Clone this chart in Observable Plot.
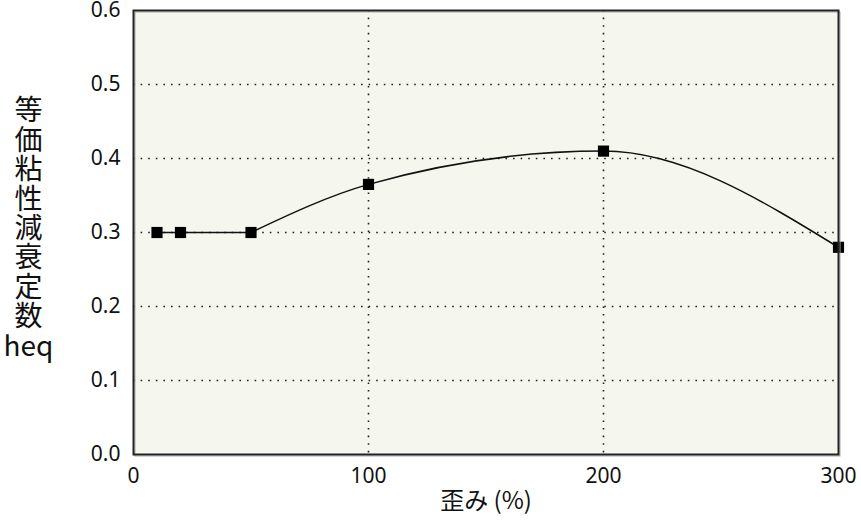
<!DOCTYPE html>
<html><head><meta charset="utf-8">
<script src="https://cdn.jsdelivr.net/npm/d3@7"></script>
<script src="https://cdn.jsdelivr.net/npm/@observablehq/plot@0.6"></script>
<style>
body{margin:0;background:#fff;}
</style>
</head><body>
<div id="chart"></div>
<script>
const strain = [10, 20, 50, 100, 200, 300];
const heq = [0.30, 0.30, 0.30, 0.365, 0.41, 0.28];
const xTicks = [0, 100, 200, 300];
const yTicks = [0.0, 0.1, 0.2, 0.3, 0.4, 0.5, 0.6];
const xGrid = [100, 200];
const yGrid = [0.1, 0.2, 0.3, 0.4, 0.5];
const xLabel = "歪み (%)";
const yLabel = "等\n価\n粘\n性\n減\n衰\n定\n数\nheq";

const data = strain.map((s, i) => ({s, h: heq[i]}));
// flat part drawn straight, rest smoothed
const flatPart = data.filter(d => d.s <= 50);
const curvePart = data.filter(d => d.s >= 50);
const font = "'Noto Sans', 'Noto Sans CJK JP', sans-serif";
const cjk = "'Noto Sans CJK JP', 'Noto Sans', sans-serif";

const chart = Plot.plot({
  width: 861, height: 528,
  marginLeft: 133, marginRight: 23, marginTop: 10, marginBottom: 74,
  style: {fontFamily: font, fontSize: "21px", color: "#111", background: "#fff"},
  x: {domain: [0, 300]},
  y: {domain: [0, 0.6]},
  marks: [
    Plot.frame({fill: "#f5f6ee", stroke: null}),
    Plot.ruleY(yGrid, {stroke: "#222", strokeWidth: 1.6, strokeDasharray: "1.6,6"}),
    Plot.ruleX(xGrid, {stroke: "#222", strokeWidth: 1.6, strokeDasharray: "1.6,6"}),
    Plot.line(flatPart, {x: "s", y: "h", stroke: "#111", strokeWidth: 1.5}),
    Plot.line(curvePart, {x: "s", y: "h", curve: "monotone-x", stroke: "#111", strokeWidth: 1.5}),
    Plot.dot(data, {x: "s", y: "h", symbol: "square", r: 6.3, fill: "#000", stroke: null}),
    Plot.frame({stroke: "#aaa", strokeWidth: 1, dx: 1.5, dy: 1.5}),
    Plot.frame({stroke: "#222", strokeWidth: 2}),
    Plot.axisX({ticks: xTicks, tickSize: 0, tickPadding: 14, label: null, tickFormat: d => d, fontSize: 21, fontFamily: font}),
    Plot.axisY({ticks: yTicks, tickSize: 0, tickPadding: 13, label: null, tickFormat: d => d.toFixed(1), fontSize: 21, fontFamily: font}),
    Plot.text([xLabel], {frameAnchor: "bottom", dy: 54, fontSize: 24, fill: "#111", fontFamily: cjk}),
    Plot.text([yLabel], {frameAnchor: "left", textAnchor: "middle", dx: -105, dy: -4, fontSize: 28, lineHeight: 1.05, fill: "#111", fontFamily: cjk})
  ]
});
document.getElementById("chart").appendChild(chart);
</script>
</body></html>
